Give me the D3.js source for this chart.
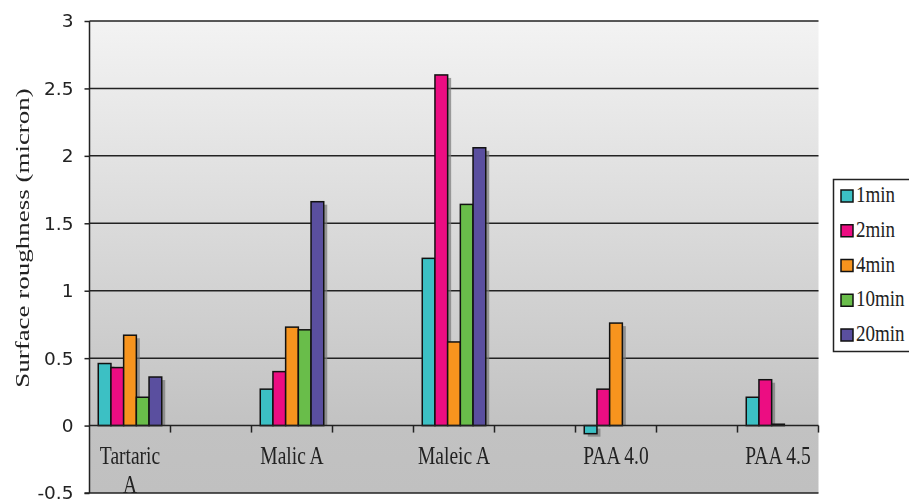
<!DOCTYPE html>
<html>
<head>
<meta charset="utf-8">
<script src="https://cdn.jsdelivr.net/npm/d3@7"></script>
<style>
  html, body { margin: 0; padding: 0; background: #ffffff; }
  svg { display: block; }
</style>
</head>
<body>
<svg id="chart" width="909" height="504"></svg>
<script>
// Surface roughness by acid treatment and exposure time
const categories = ["Tartaric A", "Malic A", "Maleic A", "PAA 4.0", "PAA 4.5"];
const seriesNames = ["1min", "2min", "4min", "10min", "20min"];
const seriesColors = ["#3cc0c4", "#ec0d82", "#f7941e", "#69bd4a", "#5a4f9f"];
const values1min  = [0.46, 0.27, 1.24, -0.06, 0.21];
const values2min  = [0.43, 0.40, 2.60, 0.27, 0.34];
const values4min  = [0.67, 0.73, 0.62, 0.76, 0.01];
const values10min = [0.21, 0.71, 1.64, 0, 0];
const values20min = [0.36, 1.66, 2.06, 0, 0];
const yTicks = [-0.5, 0, 0.5, 1, 1.5, 2, 2.5, 3];
const yTickLabels = ["-0.5", "0", "0.5", "1", "1.5", "2", "2.5", "3"];
const yTitle = "Surface roughness (micron)";

const seriesValues = [values1min, values2min, values4min, values10min, values20min];

const svg = d3.select("#chart");
const plot = { left: 89.5, right: 818.5, top: 21, bottom: 493 };
const serif = "'Liberation Serif', 'Times New Roman', serif";
const ink = "#222";

// Category slots: each named category is followed by an empty spacer slot
const slots = [];
categories.forEach((c, i) => {
  slots.push(c);
  if (i < categories.length - 1) slots.push("__gap" + i);
});

const x = d3.scaleBand().domain(slots).range([plot.left, plot.right]).paddingInner(0).paddingOuter(0);
const y = d3.scaleLinear().domain([-0.5, 3]).range([plot.bottom, plot.top]);
const sub = d3.scaleBand().domain(seriesNames).range([0, x.bandwidth()]).paddingOuter(0.69).paddingInner(0);

// Text drawn with a vertical stretch (tall, narrow lettering)
function tallText(parent, px, py, str, size, sy, anchor) {
  return parent.append("g")
    .attr("transform", `translate(${px},${py}) scale(1,${sy})`)
    .append("text")
    .attr("text-anchor", anchor || "start")
    .attr("font-family", serif).attr("font-size", size).attr("fill", ink)
    .text(str);
}

// Plot background gradient
const defs = svg.append("defs");
const grad = defs.append("linearGradient").attr("id", "bg").attr("x1", 0).attr("y1", 0).attr("x2", 0).attr("y2", 1);
grad.append("stop").attr("offset", "0%").attr("stop-color", "#f3f3f3");
grad.append("stop").attr("offset", ((y(0) - plot.top) / (plot.bottom - plot.top) * 100) + "%").attr("stop-color", "#c2c2c2");
grad.append("stop").attr("offset", "100%").attr("stop-color", "#c0c0c0");
const blur = defs.append("filter").attr("id", "soft").attr("x", "-20%").attr("y", "-20%").attr("width", "140%").attr("height", "140%");
blur.append("feGaussianBlur").attr("stdDeviation", 0.6);

svg.append("rect")
  .attr("x", plot.left).attr("y", plot.top)
  .attr("width", plot.right - plot.left).attr("height", plot.bottom - plot.top)
  .attr("fill", "url(#bg)");

// Horizontal gridlines
svg.append("g").selectAll("line").data(yTicks.filter(t => t > 0)).join("line")
  .attr("x1", plot.left).attr("x2", plot.right)
  .attr("y1", d => y(d)).attr("y2", d => y(d))
  .attr("stroke", ink).attr("stroke-width", 1.5);

// Bars data
const bars = [];
categories.forEach((c, ci) => {
  seriesNames.forEach((s, si) => {
    bars.push({ cat: c, series: s, value: seriesValues[si][ci], color: seriesColors[si] });
  });
});
const barX = d => x(d.cat) + sub(d.series);
const barY = d => y(Math.max(0, d.value));
const barH = d => Math.abs(y(d.value) - y(0));

// Drop shadows: offset right, stopping at the zero line for positive bars
svg.append("g").attr("filter", "url(#soft)").selectAll("rect").data(bars.filter(d => d.value !== 0)).join("rect")
  .attr("x", d => barX(d) + 3.5).attr("y", d => barY(d) + 3)
  .attr("width", sub.bandwidth()).attr("height", d => d.value > 0 ? Math.max(0, barH(d) - 3) : barH(d))
  .attr("fill", "#777").attr("opacity", 0.7);

// Bars
svg.append("g").selectAll("rect").data(bars.filter(d => d.value !== 0)).join("rect")
  .attr("x", d => barX(d)).attr("y", d => barY(d))
  .attr("width", sub.bandwidth()).attr("height", d => Math.max(0.5, barH(d)))
  .attr("fill", d => d.color)
  .attr("stroke", "#111").attr("stroke-width", 1.5);

// Zero axis with category ticks
const axisX = d3.axisBottom(x).tickValues([]).tickSize(0);
svg.append("g").attr("transform", `translate(0,${y(0)})`).call(axisX)
  .call(g => g.select(".domain").attr("stroke", ink).attr("stroke-width", 1.5).attr("d", `M${plot.left},0H${plot.right}`));
const boundaries = slots.slice(1).map(s => x(s)).concat([plot.right]);
svg.append("g").selectAll("line").data(boundaries).join("line")
  .attr("x1", d => d).attr("x2", d => d)
  .attr("y1", y(0)).attr("y2", y(0) + 7)
  .attr("stroke", ink).attr("stroke-width", 1.5);

// Bottom border of plot
svg.append("line")
  .attr("x1", plot.left - 5).attr("x2", plot.right)
  .attr("y1", y(-0.5)).attr("y2", y(-0.5))
  .attr("stroke", ink).attr("stroke-width", 1.5);

// Y axis
const axisY = d3.axisLeft(y).tickValues(yTicks).tickFormat((d, i) => yTickLabels[i]).tickSize(5).tickPadding(11);
svg.append("g").attr("transform", `translate(${plot.left},0)`).call(axisY)
  .call(g => g.select(".domain").attr("stroke", ink).attr("stroke-width", 1.5).attr("d", `M0,${plot.top}V${plot.bottom}`))
  .call(g => g.selectAll(".tick line").attr("stroke", ink).attr("stroke-width", 1.5))
  .call(g => g.selectAll(".tick text")
    .attr("font-family", "'DejaVu Sans', 'Liberation Sans', sans-serif")
    .attr("font-size", 18.5).attr("fill", ink));

// Category labels (wrapped when wider than the slot)
const labels = svg.append("g");
categories.forEach(c => {
  const cx = x(c) + x.bandwidth() / 2;
  const words = c.split(" ");
  const lines = (c.length > 8) ? [words.slice(0, -1).join(" "), words[words.length - 1]] : [c];
  lines.forEach((ln, i) => {
    tallText(labels, cx, 464 + i * 29, ln, 19.5, 1.3, "middle");
  });
});

// Y axis title (stretched along its length)
svg.append("g")
  .attr("transform", `translate(29,238) rotate(-90) scale(1.42,1)`)
  .append("text")
  .attr("text-anchor", "middle")
  .attr("font-family", serif).attr("font-size", 19).attr("fill", ink)
  .text(yTitle);

// Legend
const legend = svg.append("g");
legend.append("rect")
  .attr("x", 833.5).attr("y", 179.5).attr("width", 90).attr("height", 172)
  .attr("fill", "#ffffff").attr("stroke", ink).attr("stroke-width", 1.5);
const legendY = d3.scalePoint().domain(seriesNames).range([202, 341]);
seriesNames.forEach((s, i) => {
  legend.append("rect")
    .attr("x", 841).attr("y", legendY(s) - 12).attr("width", 12).attr("height", 12)
    .attr("fill", seriesColors[i]).attr("stroke", "#111").attr("stroke-width", 1.5);
  tallText(legend, 856, legendY(s), s, 19, 1.2, "start");
});
</script>
</body>
</html>
